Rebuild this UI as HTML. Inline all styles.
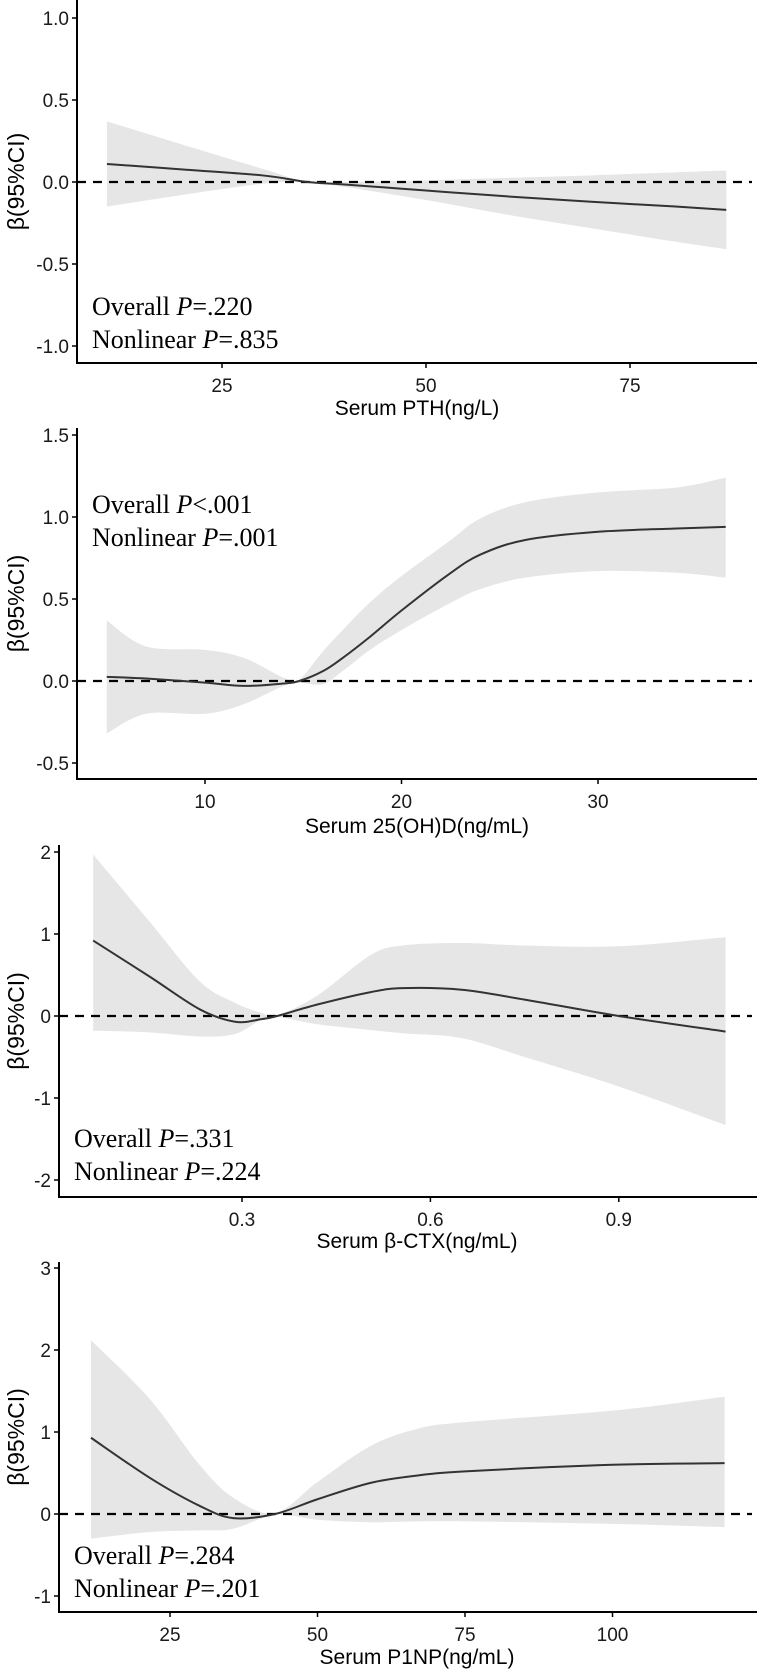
<!DOCTYPE html>
<html><head><meta charset="utf-8">
<style>
html,body{margin:0;padding:0;background:#fff;}
svg{display:block;}
.tick{font-family:"Liberation Sans",sans-serif;font-size:19px;fill:#1a1a1a;}
.ttl{font-family:"Liberation Sans",sans-serif;font-size:21px;fill:#000;}
.yttl{font-family:"Liberation Sans",sans-serif;font-size:23px;fill:#000;}
.ann{font-family:"Liberation Serif",serif;font-size:26px;fill:#000;}
</style></head>
<body>
<svg id="chart" width="760" height="1674" viewBox="0 0 760 1674" xmlns="http://www.w3.org/2000/svg"></svg>
<script>
// Panel 1: PTH
const pthX=[10.9,20,30,35.5,40,50,60,70,80,86.8];
const pthFit=[0.11,0.077,0.04,0.0,-0.015,-0.052,-0.088,-0.12,-0.148,-0.17];
const pthUp=[0.37,0.23,0.08,0.0,0.0,0.01,0.025,0.04,0.058,0.07];
const pthLo=[-0.15,-0.08,-0.01,0.0,-0.03,-0.11,-0.2,-0.28,-0.36,-0.41];
const pthYTicks=[1.0,0.5,0.0,-0.5,-1.0];
const pthYLabels=["1.0","0.5","0.0","-0.5","-1.0"];
const pthXTicks=[25,50,75];
// Panel 2: 25(OH)D
const vdX=[5,7,10,12,14,14.8,16,17,18.4,20,22.4,24,26.3,30,34,36.5];
const vdFit=[0.025,0.015,-0.01,-0.03,-0.015,0.0,0.06,0.14,0.27,0.43,0.65,0.77,0.86,0.91,0.93,0.94];
const vdUp=[0.37,0.21,0.19,0.14,0.02,0.01,0.18,0.31,0.48,0.64,0.85,0.99,1.09,1.15,1.18,1.24];
const vdLo=[-0.32,-0.2,-0.2,-0.14,-0.03,-0.01,-0.02,0.06,0.19,0.31,0.47,0.56,0.63,0.67,0.66,0.63];
const vdYTicks=[1.5,1.0,0.5,0.0,-0.5];
const vdYLabels=["1.5","1.0","0.5","0.0","-0.5"];
const vdXTicks=[10,20,30];
// Panel 3: beta-CTX
const ctxX=[0.063,0.153,0.233,0.289,0.33,0.356,0.42,0.504,0.556,0.65,0.75,0.9,1.07];
const ctxFit=[0.92,0.48,0.08,-0.07,-0.04,0.0,0.14,0.29,0.34,0.32,0.2,0.0,-0.19];
const ctxUp=[1.97,1.15,0.42,0.16,0.04,0.01,0.25,0.74,0.86,0.89,0.86,0.85,0.96];
const ctxLo=[-0.18,-0.2,-0.25,-0.22,-0.05,-0.01,-0.1,-0.17,-0.21,-0.27,-0.5,-0.86,-1.33];
const ctxYTicks=[2,1,0,-1,-2];
const ctxYLabels=["2","1","0","-1","-2"];
const ctxXTicks=[0.3,0.6,0.9];
// Panel 4: P1NP
const pnX=[11.6,21.6,30,35.7,42.8,50,59,67,75,100,119];
const pnFit=[0.93,0.44,0.1,-0.05,0.0,0.18,0.38,0.47,0.52,0.6,0.62];
const pnUp=[2.12,1.4,0.6,0.2,0.01,0.39,0.83,1.04,1.12,1.26,1.43];
const pnLo=[-0.3,-0.22,-0.2,-0.18,-0.01,-0.07,-0.1,-0.09,-0.09,-0.12,-0.16];
const pnYTicks=[3,2,1,0,-1];
const pnYLabels=["3","2","1","0","-1"];
const pnXTicks=[25,50,75,100];

const NS="http://www.w3.org/2000/svg";
const svg=document.getElementById('chart');
function mk(tag,attrs,parent){const e=document.createElementNS(NS,tag);for(const k in attrs)e.setAttribute(k,attrs[k]);(parent||svg).appendChild(e);return e;}
function smooth(pts){
  let d="M"+pts[0][0].toFixed(2)+","+pts[0][1].toFixed(2);
  for(let i=0;i<pts.length-1;i++){
    const p0=pts[Math.max(0,i-1)],p1=pts[i],p2=pts[i+1],p3=pts[Math.min(pts.length-1,i+2)];
    const c1=[p1[0]+(p2[0]-p0[0])/6,p1[1]+(p2[1]-p0[1])/6];
    const c2=[p2[0]-(p3[0]-p1[0])/6,p2[1]-(p3[1]-p1[1])/6];
    d+=" C"+c1[0].toFixed(2)+","+c1[1].toFixed(2)+" "+c2[0].toFixed(2)+","+c2[1].toFixed(2)+" "+p2[0].toFixed(2)+","+p2[1].toFixed(2);
  }
  return d;
}
function panel(cfg){
  const g=mk('g',{});
  
  
  const xs=v=>cfg.x0px+(v-cfg.x0v)*cfg.xScale;
  const ys=v=>cfg.zeroY-v*cfg.yScale;
  const up=cfg.X.map((x,i)=>[xs(x),ys(cfg.up[i])]);
  const lo=cfg.X.map((x,i)=>[xs(x),ys(cfg.lo[i])]).reverse();
  let d=smooth(up)+" L"+lo[0][0]+","+lo[0][1]+smooth(lo).replace(/^M[^C]*/," ")+" Z";
  const band=mk('path',{d:d,fill:'#e6e6e6',stroke:'none'},g);
  
  
  const z=mk('line',{x1:cfg.axX,x2:752,y1:ys(0),y2:ys(0),stroke:'#000','stroke-width':2.2,'stroke-dasharray':'9,7'},g);
  
  
  const fit=mk('path',{d:smooth(cfg.X.map((x,i)=>[xs(x),ys(cfg.fit[i])])),fill:'none',stroke:'#333','stroke-width':2},g);
  
  
  const ya=mk('line',{x1:cfg.axX,x2:cfg.axX,y1:cfg.top,y2:cfg.bottom+1,stroke:'#000','stroke-width':2},g);
  
  
  const xa=mk('line',{x1:cfg.axX-1,x2:757,y1:cfg.bottom,y2:cfg.bottom,stroke:'#000','stroke-width':2},g);
  
  
  cfg.yTicks.forEach((v,i)=>{
    mk('line',{x1:cfg.axX-5,x2:cfg.axX,y1:ys(v),y2:ys(v),stroke:'#000','stroke-width':1.5},g);
    const t=mk('text',{x:cfg.axX-8,y:ys(v)+7,'text-anchor':'end',class:'tick'},g);
    
    
    t.textContent=cfg.yLabels[i];
  });
  cfg.xTicks.forEach(v=>{
    mk('line',{x1:xs(v),x2:xs(v),y1:cfg.bottom,y2:cfg.bottom+5,stroke:'#000','stroke-width':1.5},g);
    const t=mk('text',{x:xs(v),y:cfg.bottom+29,'text-anchor':'middle',class:'tick'},g);
    
    
    t.textContent=String(v);
  });
  const xt=mk('text',{x:417,y:cfg.titleY,'text-anchor':'middle',class:'ttl'},g);
  
  
  xt.textContent=cfg.title;
  const cy=(cfg.top+cfg.bottom)/2;
  const yt=mk('text',{x:0,y:0,'text-anchor':'middle',class:'yttl',transform:'translate(24,'+cy+') rotate(-90)'},g);
  
  
  yt.textContent='β(95%CI)';
  cfg.ann.forEach((a,i)=>{
    const t=mk('text',{x:cfg.annX,y:cfg.annY+i*33,class:'ann'},g);
    
    
    t.appendChild(document.createTextNode(a[0]));
    const it=mk('tspan',{'font-style':'italic'},t);it.textContent='P';
    t.appendChild(document.createTextNode(a[1]));
  });
}
panel({name:'panel-pth',X:pthX,fit:pthFit,up:pthUp,lo:pthLo,yTicks:pthYTicks,yLabels:pthYLabels,xTicks:pthXTicks,
  x0px:222,x0v:25,xScale:8.16,zeroY:182,yScale:164,axX:77,top:0,bottom:363,titleY:415,title:'Serum PTH(ng/L)',
  annX:92,annY:315,ann:[['Overall ','=.220'],['Nonlinear ','=.835']]});
panel({name:'panel-25ohd',X:vdX,fit:vdFit,up:vdUp,lo:vdLo,yTicks:vdYTicks,yLabels:vdYLabels,xTicks:vdXTicks,
  x0px:205,x0v:10,xScale:19.65,zeroY:681,yScale:164,axX:77,top:428,bottom:779,titleY:833,title:'Serum 25(OH)D(ng/mL)',
  annX:92,annY:513,ann:[['Overall ','<.001'],['Nonlinear ','=.001']]});
panel({name:'panel-beta-ctx',X:ctxX,fit:ctxFit,up:ctxUp,lo:ctxLo,yTicks:ctxYTicks,yLabels:ctxYLabels,xTicks:ctxXTicks,
  x0px:242,x0v:0.3,xScale:628,zeroY:1016,yScale:82,axX:59,top:845,bottom:1197,titleY:1248,title:'Serum β-CTX(ng/mL)',
  annX:74,annY:1147,ann:[['Overall ','=.331'],['Nonlinear ','=.224']]});
panel({name:'panel-p1np',X:pnX,fit:pnFit,up:pnUp,lo:pnLo,yTicks:pnYTicks,yLabels:pnYLabels,xTicks:pnXTicks,
  x0px:170,x0v:25,xScale:5.9,zeroY:1514,yScale:82,axX:59,top:1262,bottom:1612,titleY:1664,title:'Serum P1NP(ng/mL)',
  annX:74,annY:1564,ann:[['Overall ','=.284'],['Nonlinear ','=.201']]});
</script>
</body></html>
